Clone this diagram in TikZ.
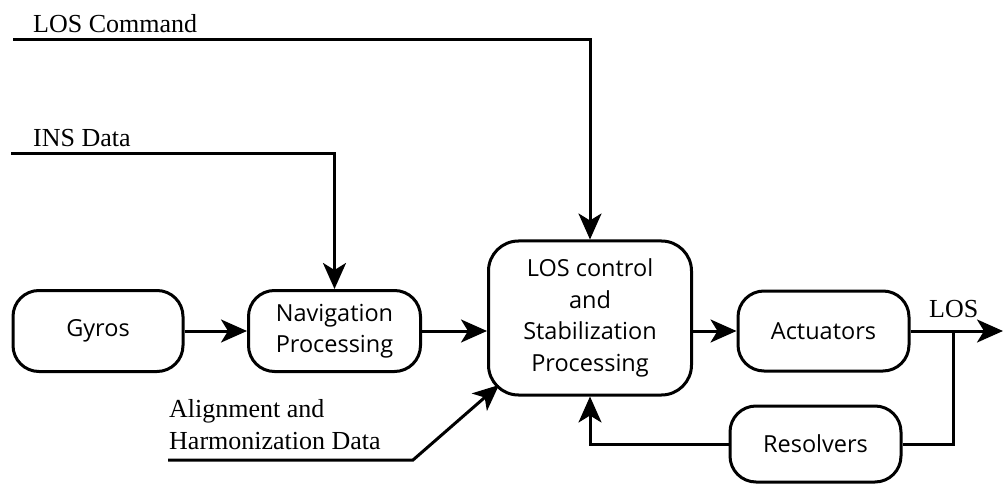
\documentclass[tikz,border=0pt]{standalone}
\usepackage{fontspec}
\setmainfont{Liberation Serif}
\newfontfamily\boxfont{Open Sans}
\usetikzlibrary{arrows.meta}

\begin{document}
\begin{tikzpicture}[x=1pt,y=-1pt,
  block/.style={draw, line width=3pt, rounded corners=26pt, align=center,
    inner sep=0pt, font=\boxfont\fontsize{23.5}{31.5}\selectfont},
  wire/.style={line width=3pt},
  flow/.style={wire, -{Stealth[length=26pt,width=23pt,inset=7pt]}},
  label/.style={inner sep=0pt, font=\fontsize{26}{32}\selectfont},
]
\useasboundingbox (0,0) rectangle (1005,484);

% processing blocks
\node[block, minimum width=170pt, minimum height=81pt] (gyros) at (98,331) {Gyros};
\node[block, minimum width=172pt, minimum height=81pt] (nav) at (334.5,331) {Navigation\\Processing};
\node[block, minimum width=203pt, minimum height=154pt, rounded corners=30pt] (los) at (590,318)
  {LOS control\\and\\Stabilization\\Processing};
\node[block, minimum width=171pt, minimum height=80pt] (act) at (823.5,331) {Actuators};
\node[block, minimum width=171pt, minimum height=76pt] (res) at (815.5,444) {Resolvers};

% external inputs
\node[label, anchor=base west] (cmdlbl) at (33,33) {LOS Command};
\node[label, anchor=base west] (inslbl) at (33,147) {INS Data};
\node[label, anchor=base west] (alnlbl1) at (169,417) {Alignment and};
\node[label, anchor=base west] (alnlbl2) at (169,449) {Harmonization Data};
\node[label, anchor=base west] (loslbl) at (929,317) {LOS};

\coordinate (cmdin) at (13,40);
\coordinate (insin) at (11,154);
\coordinate (alnin) at (168,460);
\coordinate (alnbend) at (413,460);
\coordinate (alntip) at (499,385);
\coordinate (losout) at (1003,331);
\coordinate (tap) at (953,331);

% signal flow
\draw[flow] (cmdin) -- (cmdin -| los.north) -- (los.north);
\draw[flow] (insin) -- (insin -| nav.north) -- (nav.north);
\draw[flow] (gyros.east) -- (nav.west);
\draw[flow] (nav.east) -- (nav.east -| los.west);
\draw[flow] (alnin) -- (alnbend) -- (alntip);
\draw[flow] (act.west -| los.east) -- (act.west);
\draw[flow] (act.east) -- (losout);
\draw[wire] (tap) |- (res.east);
\draw[flow] (res.west) -| (los.south);
\end{tikzpicture}
\end{document}
